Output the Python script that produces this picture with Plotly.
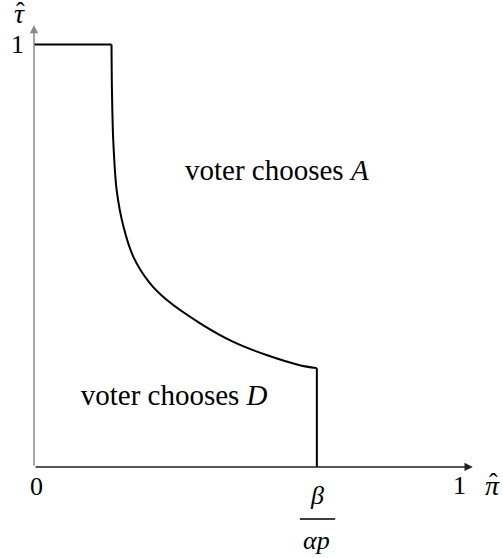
import plotly.graph_objects as go

# boundary between the two regions (pi_hat, tau_hat)
top_pi = [0, 0.182]
top_tau = [1, 1]

curve_pi = [0.182, 0.183, 0.186, 0.194, 0.210, 0.233, 0.272, 0.312, 0.390, 0.468, 0.546, 0.624, 0.664]
curve_tau = [1.0, 0.892, 0.774, 0.656, 0.569, 0.498, 0.435, 0.395, 0.340, 0.296, 0.265, 0.241, 0.234]

drop_pi = [0.664, 0.664]
drop_tau = [0.234, 0]

region_labels = ['voter chooses <i>A</i>', 'voter chooses <i>D</i>']
region_x = [0.570, 0.329]
region_y = [0.696, 0.163]

SERIF = 'Liberation Serif'
FS = 29

fig = go.Figure()

line = dict(color='black', width=2)
fig.add_trace(go.Scatter(x=top_pi, y=top_tau, mode='lines', line=line, showlegend=False))
fig.add_trace(go.Scatter(x=curve_pi, y=curve_tau, mode='lines',
                         line=dict(color='black', width=2, shape='spline', smoothing=0.8),
                         showlegend=False))
fig.add_trace(go.Scatter(x=drop_pi, y=drop_tau, mode='lines', line=line, showlegend=False))

# region labels
fig.add_trace(go.Scatter(x=region_x, y=region_y, mode='text', text=region_labels,
                         textposition='middle center',
                         textfont=dict(family=SERIF, size=FS, color='black'),
                         showlegend=False, cliponaxis=False))

# axes drawn as arrows
fig.add_annotation(x=1.03, y=0, ax=0, ay=0, xref='x', yref='y', axref='x', ayref='y',
                   text='', showarrow=True, arrowhead=2, arrowsize=1.1, arrowwidth=1.5,
                   arrowcolor='#222222')
fig.add_annotation(x=0, y=1.046, ax=0, ay=0, xref='x', yref='y', axref='x', ayref='y',
                   text='', showarrow=True, arrowhead=2, arrowsize=1.1, arrowwidth=1.5,
                   arrowcolor='#8a8a8a')

def label(x, y, txt, size=26):
    fig.add_annotation(x=x, y=y, xref='x', yref='y', text=txt, showarrow=False,
                       font=dict(family=SERIF, size=size, color='black'),
                       xanchor='center', yanchor='middle')

label(-0.0376, 0.999, '1')
label(0.005, -0.045, '0')
label(1.0, -0.043, '1')
label(0.664, -0.068, '<i>β</i>')
label(0.664, -0.173, '<i>αp</i>')

# axis names with hats
label(1.076, -0.043, '<i>π</i>', size=28)
label(1.079, -0.037, 'ˆ', size=26)
label(-0.033, 1.073, '<i>τ</i>', size=28)
label(-0.031, 1.078, 'ˆ', size=26)

# fraction bar under beta
fig.add_shape(type='line', x0=0.624, x1=0.707, y0=-0.123, y1=-0.123,
              xref='x', yref='y', line=dict(color='black', width=1.5))

fig.update_layout(
    width=503, height=558,
    margin=dict(l=0, r=0, t=0, b=0),
    paper_bgcolor='white', plot_bgcolor='white',
    xaxis=dict(visible=False, range=[-0.0798, 1.101], fixedrange=True),
    yaxis=dict(visible=False, range=[-0.2154, 1.1053], fixedrange=True),
    hovermode=False,
)

fig.write_html('out.html', config={'displayModeBar': False},
               post_script="document.body.style.margin='0';")
